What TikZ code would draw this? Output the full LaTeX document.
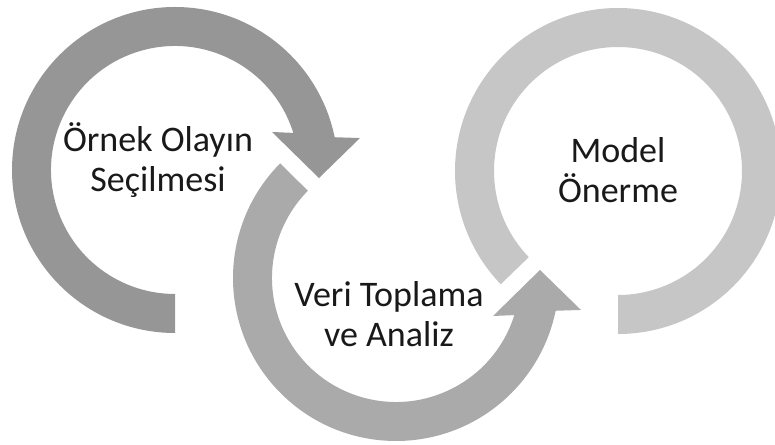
\documentclass[tikz,border=0pt]{standalone}
\usepackage{fontspec}
\setmainfont{Carlito}
\definecolor{ringA}{RGB}{150,150,150}
\definecolor{ringB}{RGB}{170,170,170}
\definecolor{ringC}{RGB}{198,198,198}
\definecolor{labeltext}{RGB}{25,25,25}
\tikzset{
  ringa/.style={fill=ringA},
  ringb/.style={fill=ringB},
  ringc/.style={fill=ringC},
  lbl/.style={text=labeltext, align=center, inner sep=0pt,
    font=\fontsize{36}{40}\selectfont},
}
\begin{document}
\begin{tikzpicture}[x=1pt,y=1pt]
\useasboundingbox (0,0) rectangle (775,444);
\coordinate (c1) at (175,274);
\coordinate (c2) at (396,166);
\coordinate (c3) at (618,273);

% first circular arrow: clockwise, head pointing down on the right
\begin{scope}[shift={(c1)}]
  \fill[ringa] (270:163pt) arc[start angle=270, end angle=11.6, radius=163pt]
    -- (9.8:187.7pt) -- (-3.2:144.2pt) -- (21.4:104.2pt) -- (17.4:124pt)
    arc[start angle=17.4, end angle=270, radius=124pt] -- cycle;
\end{scope}

% second circular arrow: counter-clockwise, head pointing up on the right
\begin{scope}[shift={(c2)}]
  \fill[ringb] (135.3:163pt) arc[start angle=135.3, end angle=348.4, radius=163pt]
    -- (-9.8:187.7pt) -- (3.2:144.2pt) -- (-21.4:104.2pt) -- (-17.4:124pt)
    arc[start angle=342.6, end angle=135.3, radius=124pt] -- cycle;
\end{scope}

% third ring, open at the bottom and at the lower left
\begin{scope}[shift={(c3)}]
  \fill[ringc] (-90:163pt) arc[start angle=-90, end angle=224, radius=163pt]
    -- (224:124pt) arc[start angle=224, end angle=-90, radius=124pt] -- cycle;
\end{scope}

% labels; the base anchor sits on the baseline of the second line
\node[lbl, anchor=base] (t1) at (158,252) {Örnek Olayın\\Seçilmesi};
\node[lbl, anchor=base] (t2) at (389,97) {Veri Toplama\\ve Analiz};
\node[lbl, anchor=base] (t3) at (618,241) {Model\\Önerme};
\end{tikzpicture}
\end{document}
